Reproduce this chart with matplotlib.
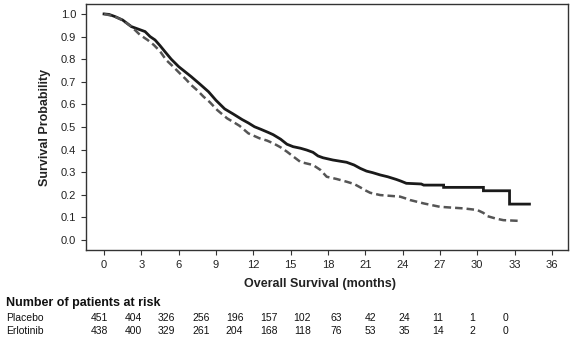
import matplotlib
matplotlib.use('Agg')
import matplotlib.pyplot as plt
import numpy as np

plt.rcParams['font.family'] = ['Liberation Sans', 'DejaVu Sans']

# Kaplan-Meier estimates (months, survival probability); tail drops kept as
# repeated times so the late steps stay square
erlotinib_t = [0, 0.4, 0.9, 1.5, 2.2, 2.8, 3.3, 3.7, 4.1, 4.5, 4.9, 5.4, 6.0, 6.5,
               7.0, 7.7, 8.4, 9.0, 9.7, 10.4, 11.1, 11.6, 12.1, 12.6, 13.2, 13.6,
               14.2, 14.7, 15.2, 15.8, 16.3, 16.8, 17.2, 17.6, 18.4, 19.5, 20.1,
               20.6, 21.1, 21.6, 22.2, 22.8, 23.5, 23.9, 24.3, 25.5, 25.7, 27.3,
               27.3, 30.5, 30.5, 32.6, 32.6, 34.2]
erlotinib_s = [1.0, 0.998, 0.988, 0.973, 0.944, 0.932, 0.922, 0.90, 0.885, 0.86,
               0.833, 0.80, 0.767, 0.745, 0.723, 0.69, 0.656, 0.618, 0.58, 0.557,
               0.533, 0.518, 0.501, 0.49, 0.476, 0.466, 0.446, 0.424, 0.413, 0.406,
               0.398, 0.388, 0.372, 0.364, 0.354, 0.344, 0.332, 0.317, 0.305, 0.298,
               0.288, 0.28, 0.268, 0.26, 0.251, 0.248, 0.243, 0.243, 0.233, 0.233,
               0.218, 0.218, 0.159, 0.159]

placebo_t = [0, 0.8, 1.5, 2.2, 2.9, 3.5, 4.0, 4.5, 5.0, 5.5, 6.1, 6.6, 7.0, 7.5,
             8.0, 8.5, 9.1, 9.9, 10.4, 10.9, 11.6, 12.5, 13.1, 13.6, 14.2, 14.7,
             15.2, 15.8, 16.8, 17.4, 17.9, 18.7, 19.5, 20.1, 20.6, 21.0, 21.4,
             22.2, 23.8, 24.2, 24.6, 25.7, 27.0, 28.9, 30.0, 30.5, 30.8, 31.5,
             32.1, 33.3]
placebo_s = [1.0, 0.99, 0.972, 0.944, 0.907, 0.885, 0.863, 0.835, 0.796, 0.77,
             0.737, 0.71, 0.686, 0.662, 0.634, 0.61, 0.575, 0.538, 0.522, 0.505,
             0.472, 0.45, 0.44, 0.428, 0.41, 0.391, 0.37, 0.345, 0.332, 0.31, 0.28,
             0.27, 0.258, 0.248, 0.233, 0.22, 0.209, 0.199, 0.192, 0.185, 0.177,
             0.162, 0.147, 0.14, 0.133, 0.12, 0.106, 0.095, 0.088, 0.085]

risk_labels = ['Placebo', 'Erlotinib']
placebo_risk = [451, 404, 326, 256, 196, 157, 102, 63, 42, 24, 11, 1, 0]
erlotinib_risk = [438, 400, 329, 261, 204, 168, 118, 76, 53, 35, 14, 2, 0]

W, H = 572, 339
fig = plt.figure(figsize=(W / 100, H / 100), dpi=100)
ax = fig.add_axes([86 / W, 1 - 250 / H, (568 - 86) / W, (250 - 4) / H])

ax.plot(erlotinib_t, erlotinib_s, color='#1a1a1a', lw=2.0,
        solid_joinstyle='miter')
ax.plot(placebo_t, placebo_s, color='#555555', lw=1.8, dashes=(3.0, 1.6))

ax.set_xlim(-1.45, 37.3)
ax.set_ylim(-0.044, 1.044)
ax.set_xticks(np.arange(0, 37, 3))
ax.set_yticks(np.arange(0, 1.01, 0.1))
ax.set_yticklabels(['%.1f' % v for v in np.arange(0, 1.01, 0.1)])
ax.tick_params(labelsize=8, length=3.5, width=0.8, color='#333333',
               labelcolor='#222222')
for s in ax.spines.values():
    s.set_linewidth(1.0)
    s.set_color('#333333')

ax.set_ylabel('Survival Probability', fontsize=9, fontweight='bold',
              color='#222222', labelpad=7)
fig.text(320 / W, 1 - 284 / H, 'Overall Survival (months)', fontsize=9,
         fontweight='bold', ha='center', va='center', color='#222222')

# number at risk table
fig.text(6 / W, 1 - 303 / H, 'Number of patients at risk', fontsize=9,
         fontweight='bold', ha='left', va='center', color='#111111')
for row, (name, counts) in enumerate(zip(risk_labels, [placebo_risk, erlotinib_risk])):
    y = 1 - (318 + row * 13) / H
    fig.text(6 / W, y, name, fontsize=7.5, ha='left', va='center', color='#111111')
    for i, n in enumerate(counts):
        fig.text((99 + i * 33.9) / W, y, str(n), fontsize=7.5, ha='center',
                 va='center', color='#111111')

fig.savefig('out.png', dpi=100)
